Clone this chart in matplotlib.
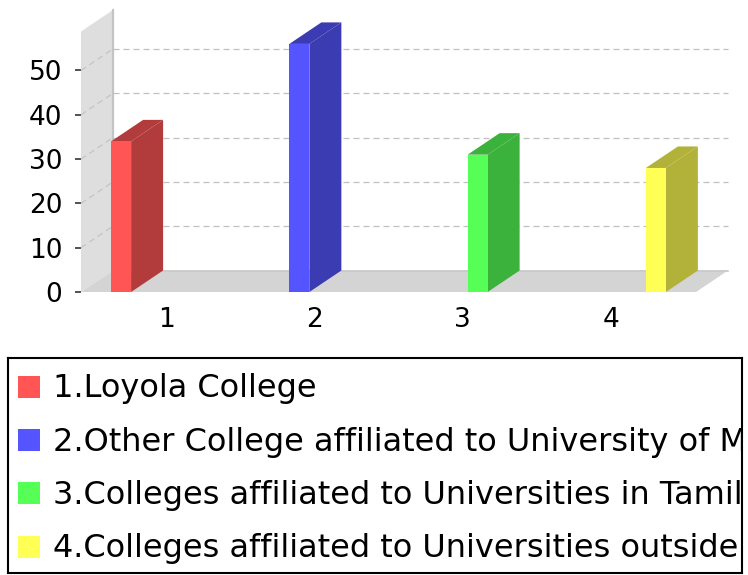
import matplotlib.pyplot as plt
from matplotlib.patches import Polygon, Rectangle

# chart data
categories = ["1", "2", "3", "4"]
series_labels = [
    "1.Loyola College",
    "2.Other College affiliated to University of Madras",
    "3.Colleges affiliated to Universities in Tamil Nadu",
    "4.Colleges affiliated to Universities outside Tamil Nadu",
]
values = [34, 56, 31, 28]
y_ticks = [0, 10, 20, 30, 40, 50]

front_colors = ["#ff5555", "#5555ff", "#55ff55", "#ffff55"]
side_colors = ["#b23b3b", "#3b3bb2", "#3bb23b", "#b2b23b"]

plt.rcParams['lines.scale_dashes'] = False

W, H = 748, 575
fig = plt.figure(figsize=(W / 100, H / 100), dpi=100)

# front plane of the plot, in pixels
left, right, bottom, top = 81, 696, 292, 31.5
ax = fig.add_axes([left / W, 1 - bottom / H, (right - left) / W, (bottom - top) / H])
x0, x1 = -0.574, len(categories) - 1 + 0.574
y0, y1 = 0, max(values) * 1.05
ax.set_xlim(x0, x1)
ax.set_ylim(y0, y1)
for s in ax.spines.values():
    s.set_visible(False)

# 3d depth offset (pixels -> data units)
px_x = (right - left) / (x1 - x0)
px_y = (bottom - top) / (y1 - y0)
DX = 32 / px_x
DY = 21.5 / px_y

# walls
ax.add_patch(Polygon([(x0, y0), (x0, y1), (x0 + DX, y1 + DY), (x0 + DX, y0 + DY)],
                     closed=True, fc="#dedede", ec="none", clip_on=False, zorder=1))
ax.add_patch(Polygon([(x0, y0), (x1, y0), (x1 + DX, y0 + DY), (x0 + DX, y0 + DY)],
                     closed=True, fc="#d4d4d4", ec="none", clip_on=False, zorder=1))
ax.plot([x0 + DX, x0 + DX], [y0 + DY, y1 + DY], color="#c4c4c4", lw=1.6,
        clip_on=False, zorder=2)
ax.plot([x0 + DX, x1 + DX], [y0 + DY, y0 + DY], color="#c8c8c8", lw=1.2,
        clip_on=False, zorder=2)

# grid lines on the back and side walls
for v in y_ticks[1:]:
    ax.plot([x0 + DX, x1 + DX], [v + DY, v + DY], color="#c0c0c0", lw=0.9,
            dashes=(4.3, 2.9), clip_on=False, zorder=2)
    ax.plot([x0, x0 + DX], [v, v + DY], color="#c4c4c4", lw=0.9,
            dashes=(4.3, 2.9), clip_on=False, zorder=2)

# bars: series i sits in category i
slot = 30 / px_x
bw = 20 / px_x
for i, v in enumerate(values):
    c = i + (i - 1.5) * slot
    xl, xr = c - bw / 2, c + bw / 2
    ax.add_patch(Polygon([(xr, 0), (xr + DX, DY), (xr + DX, v + DY), (xr, v)],
                         closed=True, fc=side_colors[i], ec="none", clip_on=False, zorder=3))
    ax.add_patch(Polygon([(xl, v), (xr, v), (xr + DX, v + DY), (xl + DX, v + DY)],
                         closed=True, fc=side_colors[i], ec="none", clip_on=False, zorder=3))
    ax.add_patch(Rectangle((xl, 0), bw, v, fc=front_colors[i], ec="none",
                           clip_on=False, zorder=4))

ax.set_yticks(y_ticks)
ax.set_xticks(range(len(categories)), categories)
ax.tick_params(axis='y', length=4, width=1.2, color="#333333", pad=9.5, labelsize=19)
ax.tick_params(axis='x', length=0, pad=11, labelsize=19)

# legend box (clipped to chart width)
lx0, ly0, lx1, ly1 = 8, 358, 742, 573
lax = fig.add_axes([lx0 / W, 1 - ly1 / H, (lx1 - lx0) / W, (ly1 - ly0) / H])
lax.set_xlim(0, lx1 - lx0)
lax.set_ylim(ly1 - ly0, 0)
lax.set_xticks([])
lax.set_yticks([])
for s in lax.spines.values():
    s.set_linewidth(1.5)
for i, lab in enumerate(series_labels):
    yc = 29 + i * 53.2
    lax.add_patch(Rectangle((10, yc - 11), 22, 22, fc=front_colors[i], ec="none"))
    lax.text(45, yc + 10.5, lab, fontsize=23, va="baseline", ha="left", clip_on=True)

fig.savefig("out.png", dpi=100)
